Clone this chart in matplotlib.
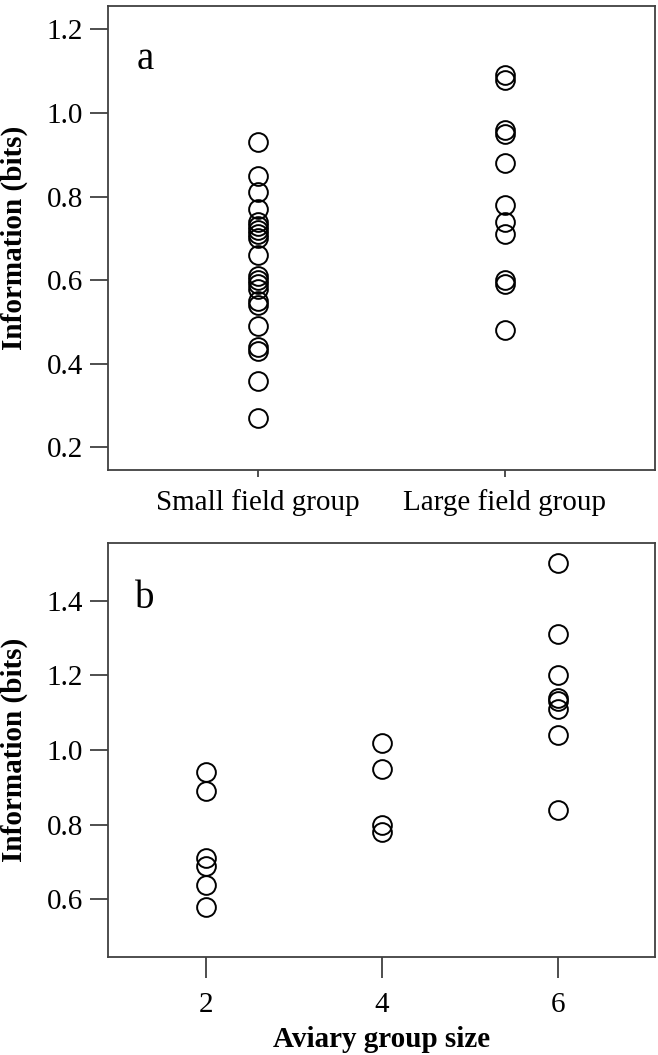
import matplotlib.pyplot as plt

# panel a: information per individual, field groups
field_groups = ["Small field group", "Large field group"]
small_field = [0.93, 0.85, 0.81, 0.77, 0.74, 0.73, 0.72, 0.71, 0.70, 0.66,
               0.61, 0.60, 0.59, 0.58, 0.55, 0.54, 0.49, 0.44, 0.43, 0.36, 0.27]
large_field = [1.09, 1.08, 0.96, 0.95, 0.88, 0.78, 0.74, 0.71, 0.60, 0.59, 0.48]

# panel b: aviary groups
aviary_sizes = [2, 4, 6]
aviary_2 = [0.94, 0.89, 0.71, 0.69, 0.64, 0.58]
aviary_4 = [1.02, 0.95, 0.80, 0.78]
aviary_6 = [1.50, 1.31, 1.20, 1.14, 1.13, 1.11, 1.04, 0.84]

yticks_a = [0.2, 0.4, 0.6, 0.8, 1.0, 1.2]
yticks_b = [0.6, 0.8, 1.0, 1.2, 1.4]

plt.rcParams["font.family"] = ["Liberation Serif", "DejaVu Serif"]

W, H = 658, 1055
fig = plt.figure(figsize=(W / 100, H / 100), dpi=100)


def px_axes(left, top, right, bottom):
    return fig.add_axes([left / W, 1 - bottom / H, (right - left) / W, (bottom - top) / H])


def style(ax):
    for s in ax.spines.values():
        s.set_color("#404040")
        s.set_linewidth(1.3)
    ax.tick_params(axis="both", colors="#404040", labelcolor="black",
                   labelsize=21, width=1.3)
    ax.tick_params(axis="y", length=13, pad=5)


mk = dict(marker="o", linestyle="none", markersize=13.5, markerfacecolor="none",
          markeredgecolor="black", markeredgewidth=1.4)

# panel a
ax1 = px_axes(108, 6, 655, 470)
ax1.plot([0] * len(small_field), small_field, **mk)
ax1.plot([1] * len(large_field), large_field, **mk)
ax1.set_xlim(-0.61, 1.61)
ax1.set_ylim(0.146, 1.256)
ax1.set_xticks([0, 1])
ax1.set_xticklabels(field_groups)
ax1.set_yticks(yticks_a)
ax1.set_yticklabels([f"{v:.1f}" for v in yticks_a])
style(ax1)
ax1.tick_params(axis="x", length=5, pad=9)
ax1.set_ylabel("Information (bits)", fontsize=21, fontweight="bold")
ax1.yaxis.set_label_coords(-0.146, 0.5)
ax1.text(0.068, 0.885, "a", transform=ax1.transAxes, fontsize=28,
         ha="center", va="center")

# panel b
ax2 = px_axes(108, 543, 655, 957)
for size, vals in zip(aviary_sizes, [aviary_2, aviary_4, aviary_6]):
    ax2.plot([size] * len(vals), vals, **mk)
ax2.set_xlim(0.885, 7.105)
ax2.set_ylim(0.446, 1.554)
ax2.set_xticks(aviary_sizes)
ax2.set_yticks(yticks_b)
ax2.set_yticklabels([f"{v:.1f}" for v in yticks_b])
style(ax2)
ax2.tick_params(axis="x", length=15, pad=10)
ax2.set_ylabel("Information (bits)", fontsize=21, fontweight="bold")
ax2.yaxis.set_label_coords(-0.146, 0.5)
ax2.set_xlabel("Aviary group size", fontsize=21, fontweight="bold")
ax2.xaxis.set_label_coords(0.5, -0.167)
ax2.text(0.068, 0.865, "b", transform=ax2.transAxes, fontsize=28,
         ha="center", va="center")

fig.savefig("out.png", dpi=100)
